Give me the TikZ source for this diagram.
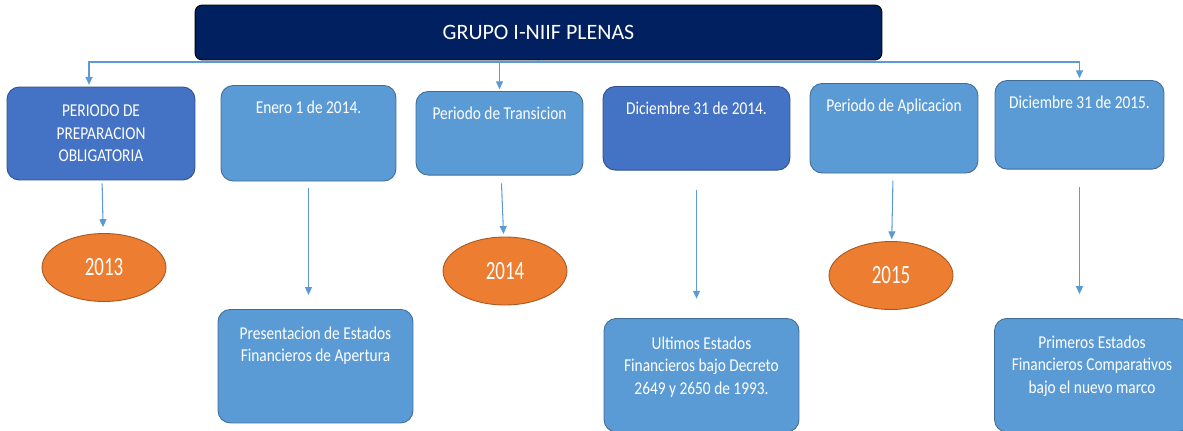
\documentclass[tikz,border=0pt]{standalone}
\usepackage{fontspec}
\setmainfont{Carlito}
\newfontfamily\narrowfont{Carlito}[FakeStretch=0.85]
\newfontfamily\yearfont{Carlito}[FakeStretch=0.72]
\usepackage{tikz}
\usetikzlibrary{shapes}
\usetikzlibrary{arrows.meta}
\definecolor{cnavy}{HTML}{002060}
\definecolor{cdark}{HTML}{4472C4}
\definecolor{clight}{HTML}{5B9BD5}
\definecolor{corange}{HTML}{ED7D31}
\definecolor{carrow}{HTML}{5B9BD5}
\tikzstyle{box}=[rectangle,rounded corners=7pt,text=white,align=center,line width=0.5pt,font=\narrowfont\fontsize{10.3}{12.8}\selectfont]
\tikzstyle{dark}=[box,fill=cdark,draw=cdark!70!black]
\tikzstyle{light}=[box,fill=clight,draw=clight!70!black]
\tikzstyle{year}=[ellipse,fill=corange,draw=corange!70!black,line width=0.5pt,text=white,inner sep=0pt,minimum width=2.48cm,minimum height=1.36cm,font=\yearfont\fontsize{15}{18}\selectfont]
\tikzset{top text/.style={inner ysep=0pt,text height=16pt,text depth=#1}}

\begin{document}
\begin{tikzpicture}
	[x=0.02cm,y=-0.02cm]
	\tikzstyle{arrow}=[-{Triangle[length=4.5pt,width=4pt]},color=carrow,line width=0.6pt];
	\useasboundingbox (0,0) rectangle (1183,430);
	\node (0) [box,fill=cnavy,draw=black,rounded corners=4pt,minimum width=13.74cm,minimum height=1.1cm,font=\fontsize{12.5}{15}\selectfont] at (538.5,32.5) {GRUPO I-NIIF PLENAS};
	\node (1) [dark,minimum width=3.76cm,minimum height=1.86cm] at (101,133.5) {PERIODO DE\\PREPARACION\\OBLIGATORIA};
	\node (2) [light,top text=38.4pt,minimum width=3.5cm,anchor=north] at (308.5,85) {Enero 1 de 2014.};
	\node (3) [light,top text=31.6pt,minimum width=3.34cm,anchor=north] at (499.5,91) {Periodo de Transicion};
	\node (4) [dark,top text=31.6pt,minimum width=3.74cm,anchor=north] at (696.5,86) {Diciembre 31 de 2014.};
	\node (5) [light,top text=35pt,minimum width=3.36cm,anchor=north] at (894,83) {Periodo de Aplicacion};
	\node (6) [light,top text=34.5pt,minimum width=3.38cm,anchor=north] at (1079.5,80) {Diciembre 31 de 2015.};
	\node (7) [year] at (104,267.5) {2013};
	\node (8) [light,top text=34.8pt,text height=29.8pt,minimum width=3.9cm,anchor=north] at (315.5,309) {Presentacion de Estados\\Financieros de Apertura};
	\node (9) [year] at (505,271) {2014};
	\node (10) [light,top text=21.4pt,text height=43.2pt,minimum width=3.9cm,anchor=north] at (701.5,318) {Ultimos Estados\\Financieros bajo Decreto\\2649 y 2650 de 1993.};
	\node (11) [year] at (891,275.5) {2015};
	\node (12) [light,top text=22pt,text height=42.6pt,minimum width=3.9cm,anchor=north] at (1092,318) {Primeros Estados\\Financieros Comparativos\\bajo el nuevo marco};
	\coordinate (bus) at (538.5,62);
	\draw[arrow,shorten >=1pt] (0.south) -- (bus) -| ([xshift=-0.24cm]1.north);
	\draw[arrow,shorten >=1pt] (bus) -| (6.north);
	\draw[arrow,shorten >=1pt] (3.north |- bus) -- (3.north);
	\path[arrow]
		(1) edge[shorten <=1.7pt,shorten >=3.4pt] (7)
		(2.south) edge[shorten <=4pt,shorten >=8pt] (8.north -| 2.south)
		(3) edge[shorten <=4.5pt,shorten >=1.5pt] (9)
		(4.south) edge[shorten <=11pt,shorten >=11pt] (10.north -| 4.south)
		(5) edge[shorten <=4pt,shorten >=1pt] (11)
		(6.south) edge[shorten <=10pt,shorten >=13.6pt] (12.north -| 6.south);
\end{tikzpicture}
\end{document}
